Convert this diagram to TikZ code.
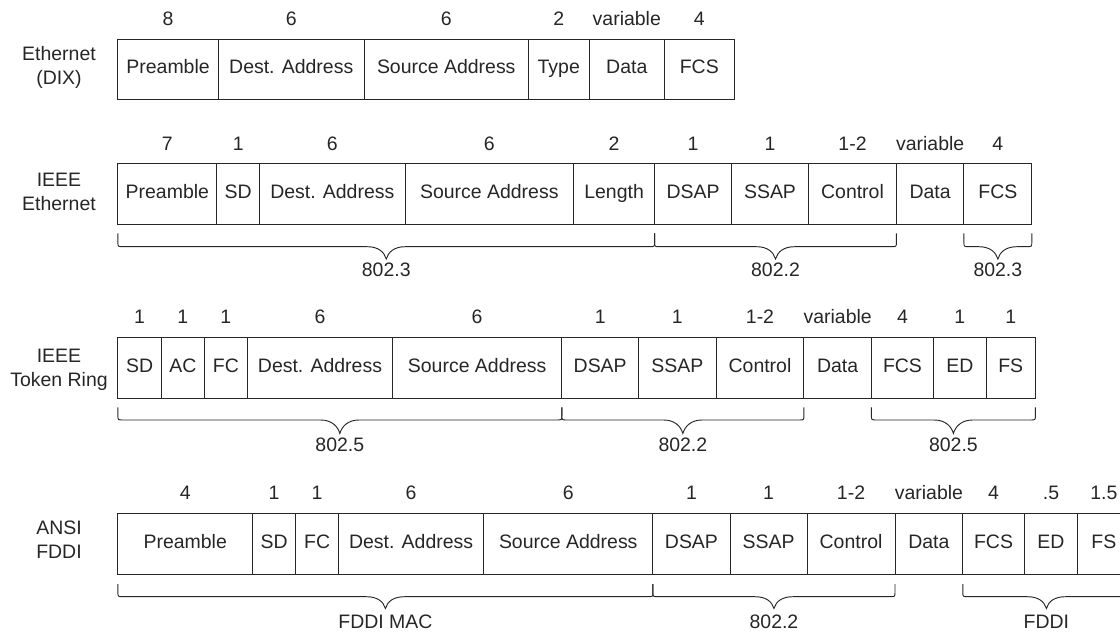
\documentclass[tikz,border=0pt]{standalone}
\usepackage{fontspec}
\setmainfont{Liberation Sans}
\newcommand\cellfont{\fontsize{14.6}{18}\selectfont}
\tikzset{
  x=0.75pt, y=-0.75pt,
  ink/.style={draw=black!85, line width=0.75pt},
  cellbox/.style={ink, rectangle, inner sep=0pt, outer sep=0pt, font=\cellfont, text=black!85, text height=0.716em, text depth=0pt},
  numtxt/.style={inner sep=0pt, font=\cellfont, text=black!85, text height=0.716em, text depth=0pt},
  rowlbl/.style={align=center, inner sep=0pt, font=\cellfont, text=black!85},
}
% cell: name, x1, x2, size number, field text  (uses \rt, \rb, \rn)
\newcommand\fcell[5]{%
  \pgfmathsetmacro\cx{(#2+#3)/2}%
  \pgfmathsetmacro\cw{(#3-#2)*0.75}%
  \pgfmathsetmacro\ch{(\rb-\rt)*0.75}%
  \pgfmathsetmacro\cy{(\rt+\rb)/2}%
  \node[cellbox, minimum width=\cw pt, minimum height=\ch pt] (#1) at (\cx,\cy) {#5};
  \node[numtxt] (#1n) at (\cx,\rn) {#4};
}
% brace: name, x1, x2, label (uses \bt, \bh, \bp, \bl)
\newcommand\fbrace[4]{%
  \pgfmathsetmacro\xm{(#2+#3)/2}%
  \draw[ink, line width=0.7pt] (#2,\bt) -- (#2,\bh-5) .. controls (#2,\bh) .. (#2+5,\bh)
    -- (\xm-19,\bh) .. controls (\xm-8,\bh) and (\xm-2,\bp-7) .. (\xm,\bp)
    .. controls (\xm+2,\bp-7) and (\xm+8,\bh) .. (\xm+19,\bh)
    -- (#3-5,\bh) .. controls (#3,\bh) .. (#3,\bh-5) -- (#3,\bt);
  \node[numtxt] (#1) at (\xm,\bl) {#4};
}
\begin{document}
\begin{tikzpicture}
\useasboundingbox (0,0) rectangle (1120,632);
\clip (0,0) rectangle (1120,632);

% ---------- Ethernet (DIX)
\node[rowlbl] (lbl1) at (59,67.5) {Ethernet\\(DIX)};
\def\rt{39}\def\rb{99}\def\rn{20.7}
\fcell{pre1}{117.9}{218.2}{8}{Preamble}
\fcell{dst1}{218.2}{364.3}{6}{Dest. Address}
\fcell{src1}{364.3}{528.2}{6}{Source Address}
\fcell{typ1}{528.2}{589.3}{2}{Type}
\fcell{dat1}{589.3}{664.3}{variable}{Data}
\fcell{fcs1}{664.3}{734.3}{4}{FCS}

% ---------- IEEE Ethernet
\node[rowlbl] (lbl2) at (59,192) {IEEE\\Ethernet};
\def\rt{163.3}\def\rb{224.3}\def\rn{145.7}
\fcell{pre2}{117.9}{216.8}{7}{Preamble}
\fcell{sd2}{216.8}{259.6}{1}{SD}
\fcell{dst2}{259.6}{405}{6}{Dest. Address}
\fcell{src2}{405}{573.6}{6}{Source Address}
\fcell{len2}{573.6}{654.6}{2}{Length}
\fcell{dsap2}{654.6}{731.4}{1}{DSAP}
\fcell{ssap2}{731.4}{808.6}{1}{SSAP}
\fcell{ctl2}{808.6}{896.4}{1-2}{Control}
\fcell{dat2}{896.4}{963.9}{variable}{Data}
\fcell{fcs2}{963.9}{1031.8}{4}{FCS}
\def\bt{233.3}\def\bh{246.7}\def\bp{259}\def\bl{272}
\fbrace{br2a}{117.9}{654.6}{802.3}
\fbrace{br2b}{654.6}{896.4}{802.2}
\fbrace{br2c}{963.9}{1031.8}{802.3}

% ---------- IEEE Token Ring
\node[rowlbl] (lbl3) at (59,369.5) {IEEE\\Token Ring};
\def\rt{337.3}\def\rb{398.3}\def\rn{318.3}
\fcell{sd3}{117.9}{161.4}{1}{SD}
\fcell{ac3}{161.4}{204.3}{1}{AC}
\fcell{fc3}{204.3}{247.5}{1}{FC}
\fcell{dst3}{247.5}{392.5}{6}{Dest. Address}
\fcell{src3}{392.5}{561.8}{6}{Source Address}
\fcell{dsap3}{561.8}{638.6}{1}{DSAP}
\fcell{ssap3}{638.6}{716.1}{1}{SSAP}
\fcell{ctl3}{716.1}{803.9}{1-2}{Control}
\fcell{dat3}{803.9}{871.4}{variable}{Data}
\fcell{fcs3}{871.4}{933.6}{4}{FCS}
\fcell{ed3}{933.6}{986.1}{1}{ED}
\fcell{fs3}{986.1}{1035.4}{1}{FS}
\def\bt{407.3}\def\bh{420}\def\bp{433.5}\def\bl{446.7}
\fbrace{br3a}{117.9}{561.8}{802.5}
\fbrace{br3b}{561.8}{803.9}{802.2}
\fbrace{br3c}{871.4}{1035.4}{802.5}

% ---------- ANSI FDDI
\node[rowlbl] (lbl4) at (59,540) {ANSI\\FDDI};
\def\rt{513.3}\def\rb{574}\def\rn{495}
\fcell{pre4}{117.9}{252.5}{4}{Preamble}
\fcell{sd4}{252.5}{295.7}{1}{SD}
\fcell{fc4}{295.7}{338.6}{1}{FC}
\fcell{dst4}{338.6}{483.6}{6}{Dest. Address}
\fcell{src4}{483.6}{652.9}{6}{Source Address}
\fcell{dsap4}{652.9}{730}{1}{DSAP}
\fcell{ssap4}{730}{807.1}{1}{SSAP}
\fcell{ctl4}{807.1}{895}{1-2}{Control}
\fcell{dat4}{895}{962.8}{variable}{Data}
\fcell{fcs4}{962.8}{1024.3}{4}{FCS}
\fcell{ed4}{1024.3}{1077.7}{.5}{ED}
\fcell{fs4}{1077.7}{1130}{1.5}{FS}
\def\bt{584}\def\bh{596.7}\def\bp{608.5}\def\bl{623.7}
\fbrace{br4a}{117.9}{652.9}{FDDI MAC}
\fbrace{br4b}{652.9}{895}{802.2}
\fbrace{br4c}{962.8}{1130}{FDDI}
\end{tikzpicture}
\end{document}
